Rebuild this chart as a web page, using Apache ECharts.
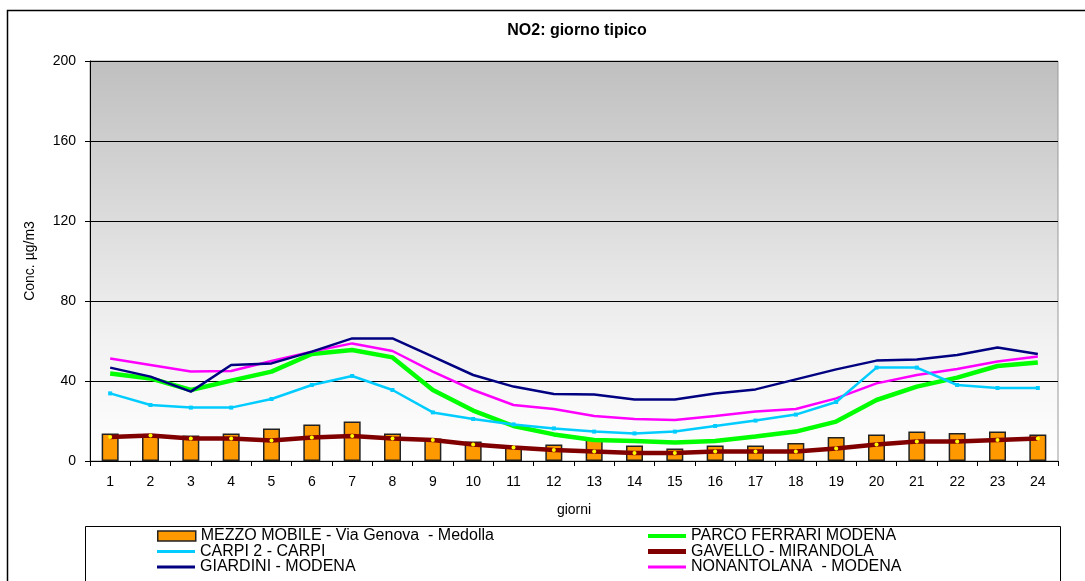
<!DOCTYPE html>
<html><head><meta charset="utf-8">
<script src="https://cdn.jsdelivr.net/npm/echarts@6/dist/echarts.min.js"></script>
<style>html,body{margin:0;padding:0;background:#fff}#c{width:1085px;height:581px}</style>
</head><body><div id="c"></div>
<script>
const categories = ['1','2','3','4','5','6','7','8','9','10','11','12','13','14','15','16','17','18','19','20','21','22','23','24'];
const mezzoMobile = [13.8,13.3,12.7,13.8,16.3,18.3,19.8,13.8,11.3,9.7,7.2,8.3,10.8,7.7,6.3,7.7,7.7,9,12,13.3,14.8,14,14.8,13.3];
const parcoFerrari = [43.8,41.3,35.5,40.2,44.7,53.5,55.5,51.8,35.5,25.2,17.5,13.3,10.5,10,9.2,10,12.2,14.7,19.7,30.5,37.2,41.7,47.5,49.3];
const carpi2 = [33.8,28,26.7,26.7,31,38,42.5,35.5,24.3,21,18.3,16.3,14.7,13.8,14.7,17.5,20.2,23.2,29.5,46.7,46.7,38,36.5,36.5];
const gavello = [12,12.7,11.2,11.2,10.3,11.8,12.5,11.2,10.5,8.3,6.8,5.5,4.7,4,4,4.7,4.7,4.7,6.2,8.3,9.7,9.7,10.5,11.2];
const giardini = [46.7,42.2,34.7,48,48.8,54.7,61.3,61.3,52.2,43,37.2,33.5,33.2,30.8,30.8,33.8,35.8,40.8,45.8,50.2,50.8,53,56.7,53.5];
const nonantolana = [51.3,48,44.7,45,50,54.7,58.8,55,44.7,35.5,28,26,22.5,21,20.5,22.5,24.7,26,31.3,38.8,43,46,49.7,52.2];
const names = ['MEZZO MOBILE - Via Genova  - Medolla','PARCO FERRARI MODENA','CARPI 2 - CARPI','GAVELLO - MIRANDOLA','GIARDINI - MODENA','NONANTOLANA  - MODENA'];
const colors = ['#FF9900','#00FF00','#00CCFF','#800000','#000080','#FF00FF'];

const chart = echarts.init(document.getElementById('c'), null, {renderer:'canvas'});
const font = 'Liberation Sans, Arial, sans-serif';
const legendText = {fontFamily:font, fontSize:16, color:'#000', lineHeight:16};
function leg(i, left, top, isBar, thick){
  return {data:[{name:names[i], itemStyle:{color:colors[i]}}], left:left, top:top, itemWidth:38, itemHeight:isBar?10:thick, itemGap:0, padding:0,
    icon:'rect', textStyle:legendText,
    itemStyle:isBar?{color:colors[i], borderColor:'#222', borderWidth:1.5}:{color:colors[i], borderWidth:0}};
}
chart.setOption({
  animation:false,
  backgroundColor:'#fff',
  title:{text:'NO2: giorno tipico', left:572, textAlign:'center', top:18,
    textStyle:{fontFamily:font, fontSize:16, fontWeight:'bold', color:'#000'}},
  graphic:[
    {type:'rect', shape:{x:7.5,y:10.5,width:1100,height:620}, style:{fill:'none', stroke:'#000', lineWidth:1.5}, z:-1},
    {type:'rect', shape:{x:85.5,y:526.5,width:975,height:80}, style:{fill:'#fff', stroke:'#000', lineWidth:1}, z:-1}
  ],
  legend:[
    leg(0,157,528,true),
    leg(2,157,543.5,false,3),
    leg(4,157,559,false,3),
    leg(1,648,528,false,4),
    leg(3,648,543.5,false,5),
    leg(5,648,559,false,3)
  ],
  grid:{left:90, top:61, width:968, height:400, show:true, borderWidth:1, borderColor:'#999',
    backgroundColor:{type:'linear', x:0, y:0, x2:0, y2:1, colorStops:[{offset:0,color:'#bfbfbf'},{offset:0.7,color:'#f2f2f2'},{offset:1,color:'#ffffff'}]}},
  xAxis:{type:'category', data:categories, boundaryGap:true, name:'giorni', nameLocation:'middle', nameGap:42,
    nameTextStyle:{fontFamily:font, fontSize:14, color:'#000'},
    axisLine:{lineStyle:{color:'#000', width:1}},
    axisTick:{show:true, length:5, lineStyle:{color:'#000'}},
    axisLabel:{fontFamily:font, fontSize:14, color:'#000', margin:14}},
  yAxis:{type:'value', min:0, max:200, interval:40, name:'Conc. µg/m3', nameLocation:'middle', nameGap:53,
    nameTextStyle:{fontFamily:font, fontSize:14, color:'#000'},
    axisLine:{show:true, lineStyle:{color:'#000'}},
    axisTick:{show:true, length:5, lineStyle:{color:'#000'}},
    axisLabel:{fontFamily:font, fontSize:14, color:'#000', margin:14},
    splitLine:{show:true, lineStyle:{color:'#000', width:1}}},
  series:[
    {name:names[0], type:'bar', data:mezzoMobile, barWidth:17, z:1,
     itemStyle:{color:colors[0], borderColor:'#222', borderWidth:1.5}},
    {name:names[1], type:'line', data:parcoFerrari, symbol:'none', z:3,
     lineStyle:{color:colors[1], width:4.5}, itemStyle:{color:colors[1]}},
    {name:names[2], type:'line', data:carpi2, symbol:'rect', symbolSize:4, z:4,
     lineStyle:{color:colors[2], width:2.5}, itemStyle:{color:colors[2]}},
    {name:names[3], type:'line', data:gavello, symbol:'circle', symbolSize:4, z:5,
     lineStyle:{color:colors[3], width:4.5}, itemStyle:{color:'#FFFF00', borderWidth:0}},
    {name:names[4], type:'line', data:giardini, symbol:'none', z:4,
     lineStyle:{color:colors[4], width:2.5}, itemStyle:{color:colors[4]}},
    {name:names[5], type:'line', data:nonantolana, symbol:'none', z:3,
     lineStyle:{color:colors[5], width:2.5}, itemStyle:{color:colors[5]}}
  ]
});
</script></body></html>
